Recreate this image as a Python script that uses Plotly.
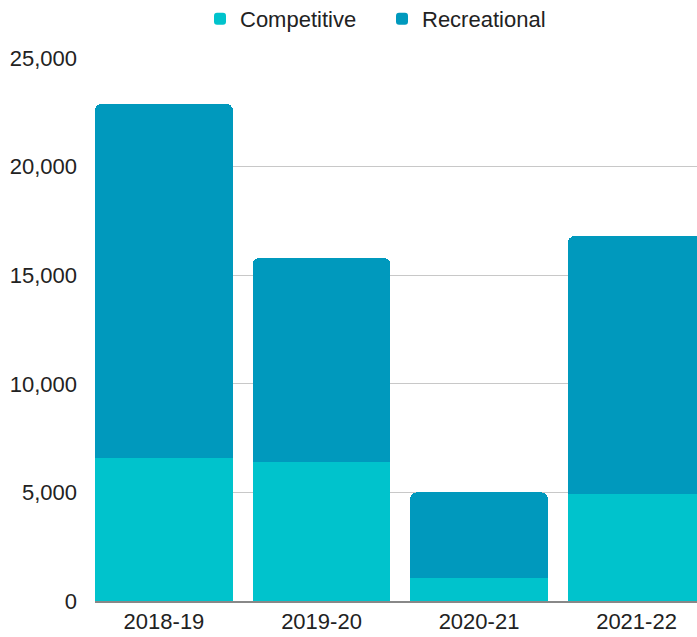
import plotly.graph_objects as go

seasons = ["2018-19", "2019-20", "2020-21", "2021-22"]
competitive = [6600, 6400, 1050, 4930]
recreational = [16300, 9400, 3950, 11870]
y_ticks = [0, 5000, 10000, 15000, 20000, 25000]
y_tick_labels = ["0", "5,000", "10,000", "15,000", "20,000", "25,000"]

FONT = "Liberation Sans, Arial, sans-serif"

fig = go.Figure()
fig.add_trace(go.Bar(name="Competitive", x=seasons, y=competitive,
                     marker=dict(color="#00C3CC", line=dict(width=0))))
fig.add_trace(go.Bar(name="Recreational", x=seasons, y=recreational,
                     marker=dict(color="#0099BD", line=dict(width=0))))

fig.update_layout(
    width=697, height=637,
    barmode="stack", bargap=0.124, barcornerradius=7,
    margin=dict(l=95, r=0, t=58, b=36),
    paper_bgcolor="white", plot_bgcolor="white",
    font=dict(family=FONT, size=22, color="#222222"),
    legend=dict(orientation="h", xref="container", yref="container",
                x=200 / 697, xanchor="left", y=1 - 19 / 637, yanchor="middle",
                traceorder="normal", entrywidth=137,
                font=dict(size=22, color="#222222"), itemclick=False),
    xaxis=dict(type="category", range=[-0.438, 3.384], showgrid=False,
               showline=True, linecolor="#888888", linewidth=2,
               tickfont=dict(size=22, color="#222222"), ticks=""),
    yaxis=dict(range=[0, 25000], tickvals=y_ticks, ticktext=y_tick_labels,
               showgrid=True, gridcolor="#C8C8C8", gridwidth=1,
               zeroline=False, showline=False, ticks="",
               ticklabelstandoff=17,
               tickfont=dict(size=22, color="#222222")),
)

fig.write_html("out.html", config={"displayModeBar": False, "staticPlot": True},
               post_script="document.body.style.margin='0';document.body.style.overflow='hidden';")
